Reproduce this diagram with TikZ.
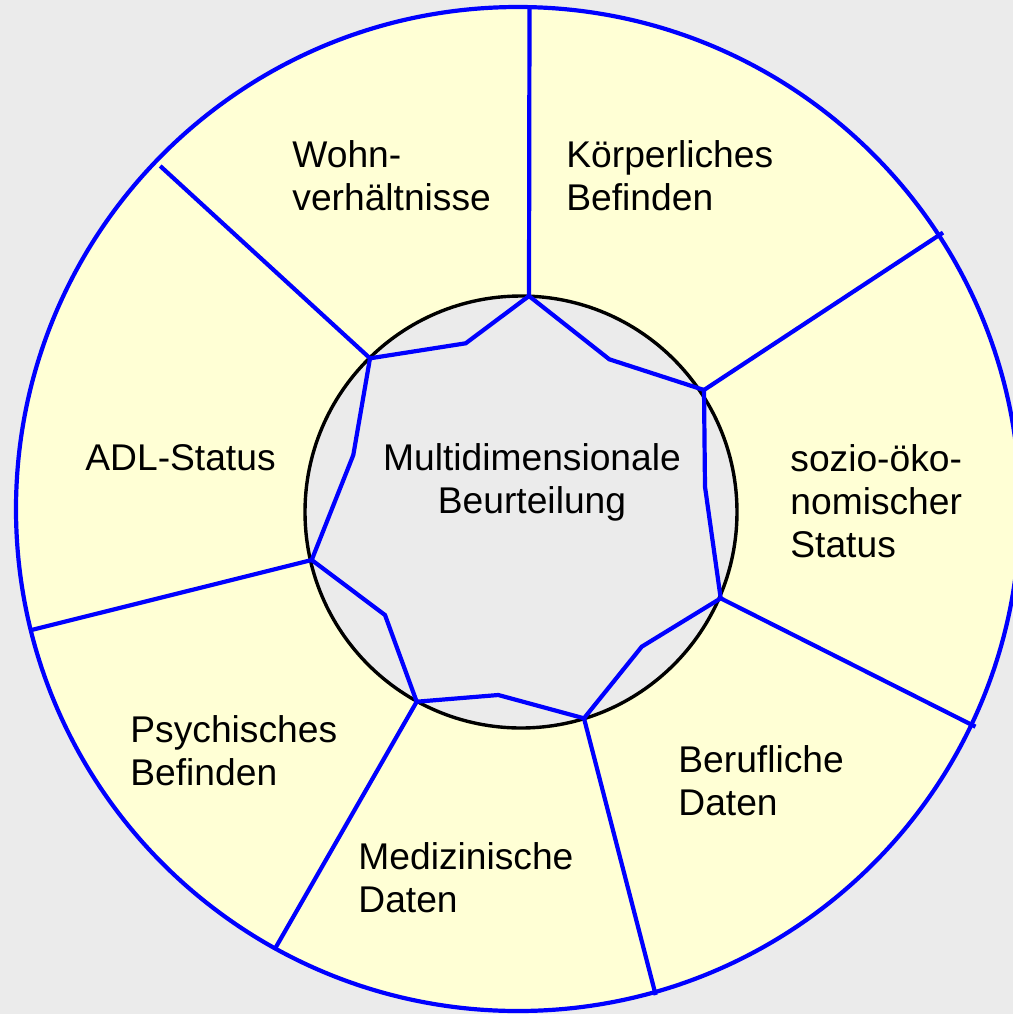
\documentclass[tikz,border=0pt]{standalone}
\usepackage{fontspec}
\setmainfont{Liberation Sans}
\definecolor{bggray}{HTML}{EBEBEB}
\definecolor{paleyellow}{HTML}{FFFFD5}
\definecolor{linkblue}{HTML}{0000FF}
\begin{document}
\begin{tikzpicture}[x=0.5pt,y=-0.5pt,
  spoke/.style={draw=linkblue,line width=2.1pt},
  label/.style={anchor=base west,align=left,inner sep=0pt,font=\fontsize{18.6}{21.5}\selectfont},
  centerlabel/.style={anchor=base,align=center,inner sep=0pt,font=\fontsize{18.6}{21.5}\selectfont}]
\useasboundingbox (0,0) rectangle (1013,1014);
\fill[bggray] (0,0) rectangle (1013,1014);
\clip (0,0) rectangle (1013,1014);
% outer disc
\coordinate (oc) at (518,509);
\filldraw[fill=paleyellow,draw=linkblue,line width=2.1pt] (oc) circle[radius=251pt];
% inner disc
\coordinate (ic) at (521,512);
\filldraw[fill=bggray,draw=black,line width=1.7pt] (ic) circle[radius=108pt];
% points on inner circle
\coordinate (p1) at (529,296);
\coordinate (p2) at (704,390);
\coordinate (p3) at (720.7,598.3);
\coordinate (p4) at (584,718.3);
\coordinate (p5) at (416.7,701.7);
\coordinate (p6) at (311.7,560);
\coordinate (p7) at (370,358.3);
% intermediate points
\coordinate (m1) at (609.3,359.3);
\coordinate (m2) at (705,486.7);
\coordinate (m3) at (641.7,646.7);
\coordinate (m4) at (498.3,695);
\coordinate (m5) at (385,615);
\coordinate (m6) at (353.3,455);
\coordinate (m7) at (465.7,343.3);
% outer ends
\coordinate (o1) at (529.5,7);
\coordinate (o2) at (943,232.6);
\coordinate (o3) at (975.5,726.7);
\coordinate (o4) at (655.7,995);
\coordinate (o5) at (274.5,949.6);
\coordinate (o6) at (32.3,629.8);
\coordinate (o7) at (160.2,166);
% inner polygon
\draw[spoke] (p1) -- (m1) -- (p2) -- (m2) -- (p3) -- (m3) -- (p4) -- (m4) -- (p5) -- (m5) -- (p6) -- (m6) -- (p7) -- (m7) -- cycle;
% spokes
\draw[spoke] (p1) -- (o1);
\draw[spoke] (p2) -- (o2);
\draw[spoke] (p3) -- (o3);
\draw[spoke] (p4) -- (o4);
\draw[spoke] (p5) -- (o5);
\draw[spoke] (p6) -- (o6);
\draw[spoke] (p7) -- (o7);
% labels (anchor at baseline of last line)
\node[label] (wohn) at (292,210) {Wohn-\\verhältnisse};
\node[label] (koerper) at (566,210) {Körperliches\\Befinden};
\node[label] (adl) at (85,470) {ADL-Status};
\node[centerlabel] (multi) at (532,513.5) {Multidimensionale\\Beurteilung};
\node[label] (sozio) at (790,557) {sozio-öko-\\nomischer\\Status};
\node[label] (psych) at (130,785) {Psychisches\\Befinden};
\node[label] (beruf) at (678,815) {Berufliche\\Daten};
\node[label] (medi) at (358,912) {Medizinische\\Daten};
\end{tikzpicture}
\end{document}
